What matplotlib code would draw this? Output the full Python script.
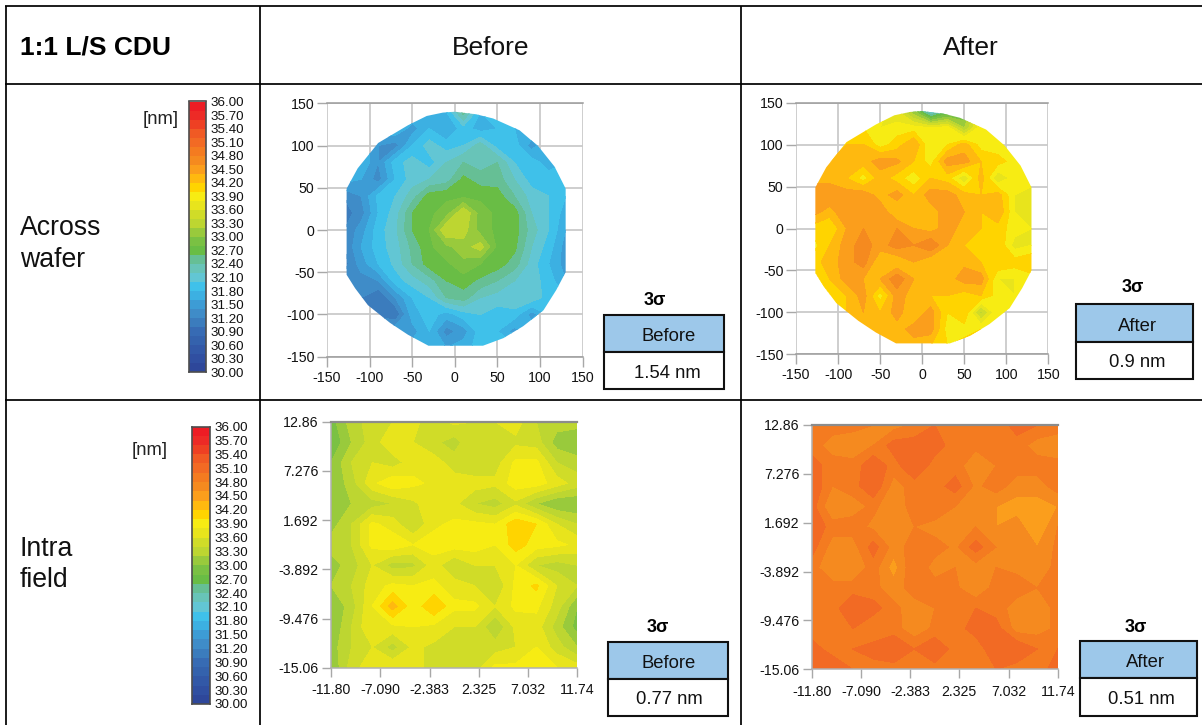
import numpy as np
import matplotlib
matplotlib.use("Agg")
import matplotlib.pyplot as plt
from matplotlib.colors import ListedColormap, BoundaryNorm
from matplotlib.patches import Polygon, Rectangle

plt.rcParams['font.family'] = ['Liberation Sans', 'DejaVu Sans']
plt.rcParams['axes.unicode_minus'] = False

W, H = 1202, 725

# ---- data ----
band_colors = ['#2e479a', '#304fa1', '#3258a7', '#3462ad', '#376bb4', '#3b7cbd', '#3f8cc8', '#3d9cd5',
               '#3cb0e2', '#3fc1ea', '#62c6d4', '#68c4b8', '#66bf95', '#69bd45', '#7ac143', '#99ca3c',
               '#bdd631', '#d0dc28', '#e8e41c', '#f7ec13', '#ffd400', '#ffb90f', '#fb9e1c', '#f58a1f',
               '#f47b20', '#f26a24', '#f05a24', '#ee4023', '#ed2a26', '#ed1c24']
level_edges = np.linspace(30, 36, 31)
cbar_labels = ['36.00', '35.70', '35.40', '35.10', '34.80', '34.50', '34.20', '33.90', '33.60', '33.30', '33.00',
               '32.70', '32.40', '32.10', '31.80', '31.50', '31.20', '30.90', '30.60', '30.30', '30.00']
cbar_values = [36.0, 35.7, 35.4, 35.1, 34.8, 34.5, 34.2, 33.9, 33.6, 33.3, 33.0,
               32.7, 32.4, 32.1, 31.8, 31.5, 31.2, 30.9, 30.6, 30.3, 30.0]

wafer_x = [-130, -110, -90, -70, -50, -30, -10, 10, 30, 50, 70, 90, 110, 130]
wafer_y = [140, 120, 100, 80, 60, 40, 20, 0, -20, -40, -60, -80, -100, -120, -140]
wafer_ticks = [-150, -100, -50, 0, 50, 100, 150]
wafer_outline = [(0, 140), (25, 137), (45, 132), (76, 118), (98, 99), (117, 75), (130, 49), (130, -50),
                 (119, -71), (104, -95), (80, -114), (57, -128), (33, -137), (-31, -137), (-55, -124),
                 (-76, -110), (-102, -89), (-117, -69), (-127, -53), (-127, 49), (-114, 73), (-90, 103),
                 (-55, 124), (-33, 135), (-14, 139)]

wafer_before = [
    [31.9, 31.9, 31.9, 31.9, 31.8, 31.8, 31.8, 32.5, 31.8, 31.9, 31.9, 31.9, 31.9, 31.9],
    [31.9, 31.9, 31.8, 31.8, 31.5, 31.8, 31.6, 31.9, 31.7, 31.8, 31.8, 31.8, 31.9, 31.9],
    [31.9, 31.8, 31.4, 31.3, 31.8, 32.1, 31.9, 32.0, 32.3, 31.9, 31.9, 31.5, 31.8, 31.9],
    [31.8, 31.8, 31.4, 31.9, 32.1, 31.9, 32.2, 32.4, 32.3, 32.4, 32.0, 31.9, 31.7, 31.8],
    [31.7, 31.6, 31.3, 31.8, 32.1, 32.2, 32.3, 32.65, 32.5, 32.5, 32.2, 31.9, 31.9, 31.9],
    [31.2, 31.4, 31.85, 32.0, 32.3, 32.7, 32.75, 32.75, 32.75, 32.7, 32.4, 32.1, 32.0, 31.8],
    [31.1, 31.3, 31.8, 32.1, 32.6, 32.75, 32.9, 33.4, 32.9, 32.75, 32.7, 32.2, 32.0, 31.7],
    [31.2, 31.5, 31.9, 32.15, 32.6, 32.8, 33.4, 33.3, 32.9, 32.75, 32.7, 32.3, 32.0, 31.6],
    [31.2, 31.6, 31.9, 32.1, 32.45, 32.75, 32.95, 33.1, 33.3, 32.75, 32.65, 32.2, 31.9, 31.5],
    [31.1, 31.5, 31.8, 32.05, 32.4, 32.7, 32.75, 32.95, 32.8, 32.7, 32.5, 32.1, 31.8, 31.5],
    [31.3, 31.3, 31.4, 31.9, 32.1, 32.3, 32.6, 32.7, 32.55, 32.4, 32.2, 32.1, 31.9, 31.6],
    [31.4, 31.2, 31.0, 31.4, 31.8, 32.0, 32.4, 32.5, 32.2, 32.1, 32.2, 32.15, 31.9, 31.8],
    [31.4, 31.2, 31.1, 31.0, 31.7, 31.9, 31.7, 31.9, 32.0, 31.9, 31.9, 31.5, 31.8, 31.8],
    [31.8, 31.8, 31.7, 31.6, 31.5, 31.8, 31.3, 31.5, 31.9, 31.8, 31.5, 31.8, 31.9, 31.9],
    [31.9, 31.9, 31.9, 31.9, 31.7, 31.8, 31.6, 31.7, 31.9, 31.9, 31.9, 31.9, 31.9, 31.9],
]

wafer_after = [
    [33.9, 33.9, 33.9, 33.9, 33.9, 33.6, 33.0, 32.0, 32.5, 32.7, 33.8, 33.9, 33.9, 33.9],
    [34.0, 34.0, 34.0, 34.0, 33.8, 33.9, 33.9, 33.8, 33.9, 33.2, 33.95, 34.0, 34.0, 34.0],
    [34.1, 34.1, 34.2, 34.2, 33.9, 34.1, 34.4, 33.8, 34.0, 34.3, 33.9, 33.85, 33.9, 34.0],
    [34.2, 34.2, 34.3, 34.3, 34.5, 34.45, 34.2, 33.9, 34.5, 34.5, 34.2, 34.1, 33.9, 34.0],
    [34.3, 34.3, 34.2, 33.9, 34.3, 34.1, 33.85, 34.2, 34.1, 33.6, 34.3, 33.6, 33.9, 33.9],
    [34.6, 34.6, 34.5, 34.55, 34.3, 34.5, 34.2, 34.5, 34.5, 34.3, 34.2, 34.3, 33.8, 33.7],
    [34.5, 34.3, 34.6, 34.5, 34.55, 34.2, 34.4, 34.3, 34.5, 34.4, 34.2, 34.4, 33.8, 33.6],
    [34.1, 34.0, 34.4, 34.6, 34.5, 34.6, 34.4, 34.3, 34.5, 34.3, 34.2, 34.1, 33.9, 33.8],
    [33.9, 34.2, 34.5, 34.7, 34.5, 34.7, 34.6, 34.8, 34.4, 34.2, 34.0, 34.2, 33.7, 33.8],
    [34.1, 34.3, 34.5, 34.7, 34.2, 34.2, 34.4, 34.2, 34.2, 34.35, 34.2, 34.2, 34.1, 34.2],
    [33.9, 34.2, 34.5, 34.4, 34.4, 34.75, 34.4, 34.4, 34.3, 34.5, 34.5, 33.8, 33.8, 33.9],
    [33.9, 34.0, 34.2, 34.5, 33.9, 34.5, 34.3, 34.2, 34.2, 34.1, 34.2, 33.9, 33.8, 33.9],
    [34.0, 34.0, 34.2, 34.4, 34.2, 34.5, 34.2, 34.5, 34.0, 34.2, 33.3, 34.0, 33.9, 33.9],
    [34.2, 34.2, 34.2, 34.4, 34.4, 34.3, 34.5, 34.5, 33.9, 33.9, 34.0, 34.0, 34.0, 34.0],
    [34.3, 34.3, 34.3, 34.3, 34.4, 34.3, 34.3, 34.2, 34.0, 34.1, 34.2, 34.2, 34.2, 34.2],
]

field_x = [-11.80, -9.84, -7.87, -5.91, -3.95, -1.98, -0.03, 1.93, 3.89, 5.85, 7.82, 9.78, 11.74]
field_y = [12.86, 10.53, 8.21, 5.88, 3.55, 1.23, -1.10, -3.43, -5.75, -8.08, -10.41, -12.73, -15.06]
field_xticks = [-11.80, -7.090, -2.383, 2.325, 7.032, 11.74]
field_xlabels = ['-11.80', '-7.090', '-2.383', '2.325', '7.032', '11.74']
field_yticks = [-15.06, -9.476, -3.892, 1.692, 7.276, 12.86]
field_ylabels = ['-15.06', '-9.476', '-3.892', '1.692', '7.276', '12.86']

field_before = [
    [32.9, 33.3, 33.5, 33.6, 33.65, 33.5, 33.65, 33.6, 33.6, 33.7, 33.4, 33.3, 33.3],
    [32.8, 33.2, 33.5, 33.75, 33.6, 33.45, 33.3, 33.6, 33.4, 33.55, 33.5, 33.1, 33.0],
    [33.0, 33.4, 33.6, 33.5, 33.7, 33.7, 33.5, 33.4, 33.5, 33.85, 33.85, 33.4, 33.3],
    [33.0, 33.3, 33.75, 33.95, 33.85, 33.75, 33.7, 33.7, 33.65, 33.9, 33.9, 33.7, 33.5],
    [33.0, 33.2, 33.3, 33.4, 33.55, 33.75, 33.65, 33.4, 33.3, 33.55, 33.2, 33.0, 33.0],
    [33.1, 33.4, 33.85, 33.7, 33.4, 33.75, 33.85, 33.85, 33.8, 34.15, 34.0, 33.6, 33.4],
    [33.3, 33.4, 33.85, 33.95, 33.8, 33.9, 33.9, 33.9, 33.8, 34.1, 33.9, 33.85, 33.75],
    [33.1, 33.3, 33.6, 33.3, 33.35, 33.7, 33.4, 33.6, 33.6, 33.8, 33.4, 33.3, 33.4],
    [33.2, 33.4, 33.7, 33.85, 33.8, 33.85, 33.7, 33.6, 33.4, 33.85, 34.05, 33.6, 33.4],
    [33.0, 33.3, 33.8, 34.3, 33.85, 34.2, 33.85, 33.85, 33.6, 33.85, 33.85, 33.5, 33.0],
    [33.0, 33.4, 33.8, 33.75, 33.8, 33.75, 33.6, 33.6, 33.2, 33.65, 33.7, 33.3, 32.9],
    [33.1, 33.4, 33.6, 33.3, 33.65, 33.55, 33.6, 33.6, 33.5, 33.6, 33.8, 33.5, 33.2],
    [33.0, 33.5, 33.75, 33.8, 33.7, 33.5, 33.5, 33.5, 33.85, 33.85, 33.85, 33.8, 33.7],
]

field_after = [
    [35.0, 34.9, 34.85, 34.8, 34.7, 34.85, 35.0, 34.9, 34.9, 34.85, 35.1, 35.0, 34.95],
    [34.9, 34.7, 34.7, 34.8, 35.1, 35.1, 35.1, 34.9, 34.85, 34.85, 34.9, 34.7, 34.6],
    [35.1, 34.9, 34.85, 35.2, 34.9, 35.2, 34.9, 34.9, 34.65, 34.8, 34.9, 34.9, 34.9],
    [35.2, 34.8, 34.9, 35.2, 34.7, 34.9, 34.9, 35.1, 34.75, 34.9, 34.7, 34.7, 34.9],
    [35.1, 34.6, 34.7, 34.85, 34.65, 34.9, 35.0, 34.8, 34.75, 34.6, 34.5, 34.5, 34.6],
    [35.2, 34.9, 34.9, 34.75, 34.7, 34.8, 34.7, 34.6, 34.8, 34.6, 34.7, 34.4, 34.8],
    [35.1, 34.7, 34.7, 35.1, 34.7, 34.9, 34.9, 34.75, 35.1, 34.8, 34.8, 34.6, 34.85],
    [34.9, 34.6, 34.6, 34.9, 34.5, 35.0, 34.7, 34.8, 34.7, 34.8, 34.75, 34.7, 34.85],
    [35.0, 34.9, 34.9, 34.85, 34.7, 34.9, 34.9, 34.85, 34.6, 34.9, 34.9, 34.8, 34.9],
    [34.9, 34.9, 35.2, 35.1, 34.85, 34.7, 34.8, 34.9, 35.0, 34.9, 34.7, 34.7, 34.85],
    [34.9, 34.8, 35.0, 34.8, 34.9, 34.65, 34.85, 34.9, 35.1, 35.1, 34.7, 34.7, 34.85],
    [35.1, 34.9, 35.0, 35.1, 35.2, 35.0, 35.2, 34.9, 34.85, 35.2, 35.2, 35.0, 35.0],
    [35.2, 35.2, 35.0, 34.9, 34.9, 34.85, 34.9, 35.0, 34.9, 35.0, 34.9, 34.8, 35.2],
]

sigma_labels = ['Before', 'After', 'Before', 'After']
sigma_values = ['1.54 nm', '0.9 nm', '0.77 nm', '0.51 nm']

# ---- drawing ----
cmap = ListedColormap(band_colors)
norm = BoundaryNorm(level_edges, cmap.N)
fig = plt.figure(figsize=(W / 100, H / 100), dpi=100)


def px_axes(x0, y0, x1, y1, **kw):
    return fig.add_axes([x0 / W, 1 - y1 / H, (x1 - x0) / W, (y1 - y0) / H], **kw)


def wafer_map(box, z):
    ax = px_axes(*box)
    ax.set_xlim(-150, 150)
    ax.set_ylim(-150, 150)
    ax.set_xticks(wafer_ticks)
    ax.set_yticks(wafer_ticks)
    ax.set_axisbelow(True)
    ax.grid(True, color='#cacaca', lw=1.3)
    cs = ax.contourf(wafer_x, wafer_y, z, levels=level_edges, cmap=cmap, norm=norm)
    cs.set_clip_path(Polygon(wafer_outline, closed=True, transform=ax.transData))
    ax.tick_params(length=7, width=1, color='#a8a8a8', labelsize=10.2, labelcolor='#111111')
    ax.tick_params(axis='x', pad=3)
    ax.tick_params(axis='y', pad=2)
    for s in ('left', 'right'):
        ax.spines[s].set_visible(False)
    for s in ('top', 'bottom'):
        ax.spines[s].set_color('#9a9a9a')
        ax.spines[s].set_linewidth(1.1)
    return ax


def field_map(box, z):
    ax = px_axes(*box)
    ax.contourf(field_x, field_y, z, levels=level_edges, cmap=cmap, norm=norm)
    ax.set_xlim(-11.80, 11.74)
    ax.set_ylim(-15.06, 12.86)
    ax.set_xticks(field_xticks, field_xlabels)
    ax.set_yticks(field_yticks, field_ylabels)
    ax.tick_params(length=6.5, width=1, color='#a8a8a8', labelsize=10.2, labelcolor='#111111')
    ax.tick_params(axis='x', pad=4.5)
    ax.tick_params(axis='y', pad=2.5)
    ax.spines['right'].set_visible(False)
    ax.spines['top'].set_color('#8c8c8c')
    ax.spines['top'].set_linewidth(1.6)
    for s in ('left', 'bottom'):
        ax.spines[s].set_color('#b0b0b0')
        ax.spines[s].set_linewidth(1.1)
    return ax


def colorbar(box):
    ax = px_axes(*box)
    ax.pcolormesh([0, 1], level_edges, np.array(level_edges[:-1] + 0.1).reshape(-1, 1), cmap=cmap, norm=norm)
    ax.set_xticks([])
    ax.set_ylim(30, 36)
    ax.yaxis.tick_right()
    ax.set_yticks(cbar_values, cbar_labels)
    ax.tick_params(length=0, labelsize=9.6, pad=3, labelcolor='#111111')
    for s in ax.spines.values():
        s.set_color('#4d4d4d')
        s.set_linewidth(1.2)


wafer_map((327, 103.3, 582.7, 356.7), wafer_before)
wafer_map((796, 102.7, 1048.3, 354.3), wafer_after)
field_map((331, 421.7, 577.3, 667.7), field_before)
field_map((811.7, 425, 1057.7, 669.3), field_after)
colorbar((189.3, 101.5, 206, 372.3))
colorbar((191.7, 426.5, 210, 704))

# overlay in pixel coordinates for the table frame and labels
ov = fig.add_axes([0, 0, 1, 1], facecolor='none')
ov.set_xlim(0, W)
ov.set_ylim(H, 0)
ov.axis('off')

for x0, y0, x1, y1 in [(5, 5.5, W, 5.5), (5, 84, W, 84), (5, 399.5, W, 399.5),
                       (6, 5.5, 6, H), (260, 5.5, 260, H), (741, 5.5, 741, H)]:
    ov.plot([x0, x1], [y0, y1], color='black', lw=1.25, solid_capstyle='butt')

ov.text(20, 47, '1:1 L/S CDU', fontsize=19, fontweight='bold', ha='left', va='center')
ov.text(491, 48, 'Before', fontsize=19, ha='center', va='center', color='#111111')
ov.text(971, 48, 'After', fontsize=19, ha='center', va='center', color='#111111')
ov.text(20, 228, 'Across', fontsize=19.2, ha='left', va='center', color='#111111')
ov.text(20, 260, 'wafer', fontsize=19.2, ha='left', va='center', color='#111111')
ov.text(20, 549, 'Intra', fontsize=19.2, ha='left', va='center', color='#111111')
ov.text(20, 580, 'field', fontsize=19.2, ha='left', va='center', color='#111111')
ov.text(179, 119, '[nm]', fontsize=13.3, ha='right', va='center', color='#222222')
ov.text(168, 450, '[nm]', fontsize=13.3, ha='right', va='center', color='#222222')

boxes = [(604.3, 314.7, 724.3, 352, 389.3, 655, 300, 669, 667),
         (1075.7, 304.3, 1192.7, 341.7, 379, 1132.7, 287, 1137, 1137),
         (607.7, 641.7, 728, 679, 716, 658, 627.7, 669, 669),
         (1080, 641, 1196.7, 678.3, 715.7, 1136, 627.7, 1145, 1141)]
for (x0, y0, x1, ym, y1, sx, sy, lx, vx), lab, val in zip(boxes, sigma_labels, sigma_values):
    ov.add_patch(Rectangle((x0, y0), x1 - x0, ym - y0, fc='#9dc8ea', ec='#111111', lw=1.5))
    ov.add_patch(Rectangle((x0, ym), x1 - x0, y1 - ym, fc='white', ec='#111111', lw=1.5))
    ov.text(lx, (y0 + ym) / 2 + 3, lab, fontsize=13.3, ha='center', va='center', color='#111111')
    ov.text(vx, (ym + y1) / 2 + 2.5, val, fontsize=13.3, ha='center', va='center', color='#111111')
    ov.text(sx, sy, '3σ', fontsize=13, fontweight='bold', ha='center', va='center')

fig.savefig('out.png', dpi=100)
